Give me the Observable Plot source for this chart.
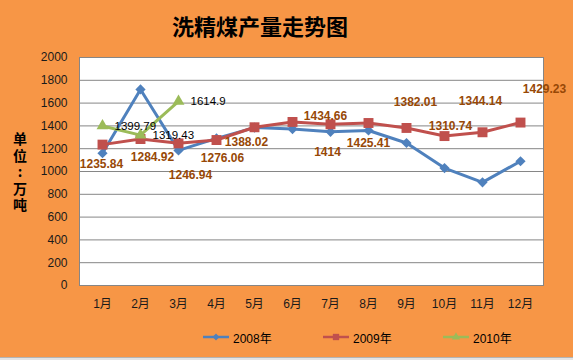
<!DOCTYPE html>
<html>
<head>
<meta charset="utf-8">
<script src="https://cdn.jsdelivr.net/npm/d3@7"></script>
<script src="https://cdn.jsdelivr.net/npm/@observablehq/plot@0.6"></script>
<style>
  html, body { margin: 0; padding: 0; background: #F79646; }
  #wrap { position: relative; width: 573px; height: 360px; overflow: hidden; background: #F79646; }
  #chart { position: absolute; left: 0; top: 0; }
  #title { position: absolute; left: 0; top: 8px; width: 520px; text-align: center; font: bold 22px "Noto Sans CJK SC", sans-serif; color: #000; line-height: 34px; }
  #ylab { position: absolute; left: 12px; top: 132px; font: bold 14px "Noto Sans CJK SC", sans-serif; color: #000;
          writing-mode: vertical-rl; text-orientation: upright; letter-spacing: 2.5px; line-height: 16px; }
  #legend { position: absolute; left: 203px; top: 328px; display: flex; font: 12px "Liberation Sans", "Noto Sans CJK SC", sans-serif; color: #000; }
  .item { width: 120px; display: flex; align-items: center; height: 18px; }
  .item svg { margin-right: 4px; }
  #bottom { position: absolute; left: 0; top: 357px; width: 573px; height: 3px; background: #e4e4e4; border-top: 1px solid #b4b4b4; }
</style>
</head>
<body>
<div id="wrap">
  <div id="chart"></div>
  <div id="title"></div>
  <div id="ylab"></div>
  <div id="legend"></div>
  <div id="bottom"></div>
</div>
<script>
const titleText = "洗精煤产量走势图";
const yLabelText = "单位:万吨";
const months = ["1月","2月","3月","4月","5月","6月","7月","8月","9月","10月","11月","12月"];
const seriesNames = ["2008年", "2009年", "2010年"];
const y2008 = [1160, 1720, 1185, 1290, 1385, 1372, 1348, 1360, 1250, 1030, 905, 1090];
const y2009 = [1235.84, 1284.92, 1246.94, 1276.06, 1388.02, 1434.66, 1414, 1425.41, 1382.01, 1310.74, 1344.14, 1429.23];
const y2010 = [1399.79, 1319.43, 1614.9];
const yTicks = [0, 200, 400, 600, 800, 1000, 1200, 1400, 1600, 1800, 2000];

const colors = ["#4F81BD", "#C0504D", "#9BBB59"];
const symbols = ["diamond2", "square", "triangle"];
const symbolR = [4.6, 5.6, 4.4];
// label placement offsets (dx, dy) for 2009 data labels, mimicking the reference layout
const labelOffsets2009 = [[-1,20],[12,18],[12,32],[6,18],[-8,15],[33,-6],[-3,28],[0,20],[9,-26],[6,-10],[-2,-31],[24,-33]];

const mk = (vals, s) => vals.map((v, i) => ({month: months[i], value: v, series: s}));
const d2008 = mk(y2008, seriesNames[0]);
const d2009 = mk(y2009, seriesNames[1]);
const d2010 = mk(y2010, seriesNames[2]);
const all = [d2008, d2009, d2010];

const fmt = v => String(v);

const marks = [
  Plot.frame({fill: "white", stroke: "#868686"}),
  Plot.ruleY(yTicks, {stroke: "#868686", strokeWidth: 1}),
  Plot.axisY({ticks: yTicks, tickSize: 0, tickPadding: 12, fontSize: 12, fill: "#1a1a1a", label: null, tickFormat: d => String(d)}),
  Plot.axisX({tickSize: 0, tickPadding: 14, fontSize: 12, fill: "#1a1a1a", label: null})
];
all.forEach((d, k) => {
  marks.push(Plot.line(d, {x: "month", y: "value", stroke: colors[k], strokeWidth: 3}));
  marks.push(Plot.dot(d, {x: "month", y: "value", symbol: () => symbols[k], fill: colors[k], stroke: "none", r: symbolR[k]}));
});
d2009.forEach((d, i) => {
  marks.push(Plot.text([d], {x: "month", y: "value", text: v => fmt(v.value), dx: labelOffsets2009[i][0], dy: labelOffsets2009[i][1], fill: "#974806", fontWeight: "bold", fontSize: 12, textAnchor: "middle", lineAnchor: "middle"}));
});
marks.push(Plot.text(d2010, {x: "month", y: "value", text: v => fmt(v.value), dx: 12, fill: "#000", fontSize: 11.5, textAnchor: "start", lineAnchor: "middle"}));

const chart = Plot.plot({
  width: 573,
  height: 360,
  marginLeft: 79,
  marginRight: 30,
  marginTop: 57,
  marginBottom: 75,
  style: {background: "transparent", fontFamily: "'Liberation Sans', 'Noto Sans CJK SC', sans-serif", overflow: "visible"},
  x: {type: "point", domain: months, padding: 0.5},
  y: {domain: [0, 2000]},
  marks
});
document.getElementById("chart").appendChild(chart);

document.getElementById("title").textContent = titleText;
document.getElementById("ylab").textContent = yLabelText;

const legend = document.getElementById("legend");
const symPath = k => d3.symbol(
  k === 0 ? d3.symbolDiamond2 : k === 1 ? d3.symbolSquare : d3.symbolTriangle,
  k === 0 ? 30 : k === 1 ? 40 : 30)();
seriesNames.forEach((name, k) => {
  const item = document.createElement("div");
  item.className = "item";
  item.innerHTML = `<svg width="26" height="12"><line x1="0" x2="26" y1="6" y2="6" stroke="${colors[k]}" stroke-width="2.5"/><path transform="translate(13,6)" d="${symPath(k)}" fill="${colors[k]}"/></svg><span>${name}</span>`;
  legend.appendChild(item);
});
</script>
</body>
</html>
